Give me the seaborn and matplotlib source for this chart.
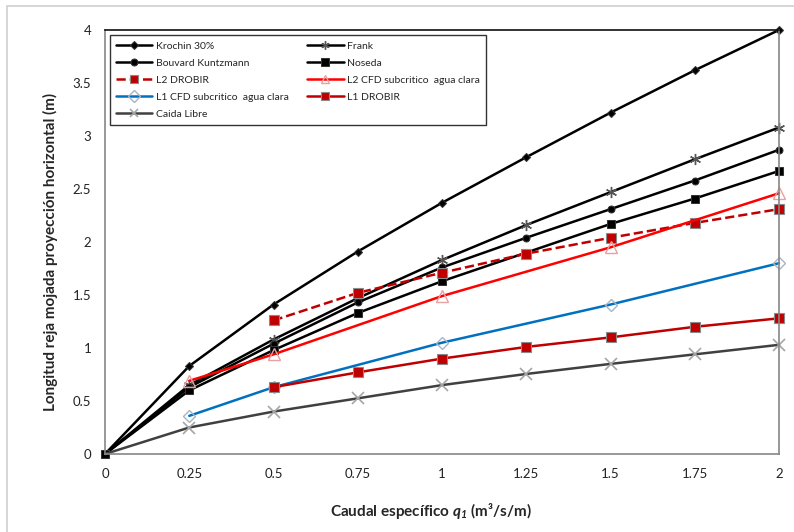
import numpy as np
import pandas as pd
import matplotlib
matplotlib.use("Agg")
import matplotlib.pyplot as plt
from matplotlib.patches import Rectangle
import seaborn as sns

# Specific discharge q1 (m3/s/m)
q_full = [0.0, 0.25, 0.5, 0.75, 1.0, 1.25, 1.5, 1.75, 2.0]
q_drobir = [0.5, 0.75, 1.0, 1.25, 1.5, 1.75, 2.0]
q_cfd = [0.25, 0.5, 1.0, 1.5, 2.0]

# Wetted rack length, horizontal projection (m)
krochin = [0.0, 0.83, 1.41, 1.91, 2.37, 2.80, 3.22, 3.62, 4.0]
frank = [0.0, 0.65, 1.08, 1.47, 1.83, 2.16, 2.47, 2.78, 3.08]
bouvard = [0.0, 0.63, 1.04, 1.43, 1.76, 2.04, 2.31, 2.58, 2.87]
noseda = [0.0, 0.60, 0.98, 1.33, 1.63, 1.90, 2.17, 2.41, 2.67]
l2_drobir = [1.26, 1.52, 1.71, 1.89, 2.04, 2.18, 2.31]
l2_cfd = [0.69, 0.94, 1.49, 1.95, 2.46]
l1_cfd = [0.36, 0.63, 1.05, 1.41, 1.80]
l1_drobir = [0.63, 0.77, 0.90, 1.01, 1.10, 1.20, 1.28]
caida_libre = [0.0, 0.25, 0.40, 0.525, 0.65, 0.755, 0.85, 0.94, 1.03]

x_ticks = [0, 0.25, 0.5, 0.75, 1, 1.25, 1.5, 1.75, 2]
x_tick_labels = ["0", "0.25", "0.5", "0.75", "1", "1.25", "1.5", "1.75", "2"]
y_ticks = [0, 0.5, 1, 1.5, 2, 2.5, 3, 3.5, 4]
y_tick_labels = ["0", "0.5", "1", "1.5", "2", "2.5", "3", "3.5", "4"]

sns.set_style("white")
plt.rcParams["font.family"] = ["Lato", "DejaVu Sans"]
plt.rcParams["mathtext.fontset"] = "custom"
plt.rcParams["mathtext.bfit"] = "Lato:italic:bold"
plt.rcParams["mathtext.it"] = "Lato:italic"
plt.rcParams["mathtext.rm"] = "Lato"

fig = plt.figure(figsize=(7.94, 5.32), dpi=100)
ax = fig.add_axes([105 / 794, 1 - 454 / 532, 674 / 794, 424 / 532])

# light outer frame of the chart area
fig.patches.append(Rectangle((7 / 794, -0.1), 1.2, 1.1 - 6 / 532,
                             transform=fig.transFigure, fill=False,
                             edgecolor="#D0D0D0", linewidth=1.2, zorder=0))

GRAY = "#868686"
lw = 1.8
skip_origin = list(range(1, len(q_full)))

def draw(x, y, label, **kw):
    df = pd.DataFrame({"q": x, "L": y})
    sns.lineplot(data=df, x="q", y="L", ax=ax, label=label, linewidth=lw,
                 sort=False, clip_on=False, **kw)

draw(q_full, krochin, "Krochin 30%", color="black", marker="D",
     markersize=4, markerfacecolor="black", markeredgecolor="#333333",
     markevery=skip_origin)
draw(q_full, frank, "Frank", color="black", marker=(6, 2, 0),
     markersize=8, markeredgecolor="#555555", markeredgewidth=1.0,
     markevery=skip_origin)
draw(q_full, bouvard, "Bouvard Kuntzmann", color="black", marker="o",
     markersize=5, markerfacecolor="black", markeredgecolor="#333333",
     markevery=skip_origin)
draw(q_full, noseda, "Noseda", color="black", marker="s",
     markersize=6, markerfacecolor="black", markeredgecolor="#333333")
draw(q_drobir, l2_drobir, "L2 DROBIR", color="#C00000", linestyle="--",
     marker="s", markersize=7, markerfacecolor="#C00000",
     markeredgecolor="#8A8A8A", markeredgewidth=0.8)
draw(q_cfd, l2_cfd, "L2 CFD subcritico  agua clara", color="#FF0000",
     marker="^", markersize=9, markerfacecolor="none",
     markeredgecolor="#E8A0A0", markeredgewidth=1.0)
draw(q_cfd, l1_cfd, "L1 CFD subcritico  agua clara", color="#0070C0",
     marker="D", markersize=6, markerfacecolor="none",
     markeredgecolor="#A8B4C4", markeredgewidth=1.0)
draw(q_drobir, l1_drobir, "L1 DROBIR", color="#C00000", marker="s",
     markersize=7, markerfacecolor="#C00000",
     markeredgecolor="#8A8A8A", markeredgewidth=0.8)
draw(q_full, caida_libre, "Caida Libre", color="#404040", marker="x",
     markersize=8, markeredgecolor="#A6A6A6", markeredgewidth=1.2,
     markevery=skip_origin)

ax.set_xlim(0, 2)
ax.set_ylim(0, 4)
ax.set_xticks(x_ticks)
ax.set_xticklabels(x_tick_labels)
ax.set_yticks(y_ticks)
ax.set_yticklabels(y_tick_labels)
ax.tick_params(axis="both", direction="out", length=4, width=1,
               color=GRAY, labelsize=9.5, labelcolor="#222222", pad=6)

for side in ("left", "bottom", "right"):
    ax.spines[side].set_color(GRAY)
    ax.spines[side].set_linewidth(1.2)
ax.spines["top"].set_color("#111111")
ax.spines["top"].set_linewidth(1.2)

ax.set_xlabel(r"Caudal específico $\mathbfit{q_1}$ (m³/s/m)",
              fontsize=11, fontweight="bold")
ax.xaxis.set_label_coords(0.484, -0.11)
ax.set_ylabel("Longitud reja mojada proyección horizontal (m)",
              fontsize=11, fontweight="bold")
ax.yaxis.set_label_coords(-0.07, 0.476)

# legend: two columns, filled row by row
handles, labels = ax.get_legend_handles_labels()
order = [0, 2, 4, 6, 8, 1, 3, 5, 7]
leg = ax.legend([handles[i] for i in order], [labels[i] for i in order],
                ncol=2, loc="upper left", bbox_to_anchor=(0.007, 0.988),
                fontsize=7.5, frameon=True, fancybox=False,
                edgecolor="black", handlelength=3.5, handletextpad=0.3,
                columnspacing=1.8, labelspacing=0.75, borderpad=0.6,
                borderaxespad=0)
leg.get_frame().set_linewidth(1.0)
for h in leg.legend_handles:
    h.set_markersize(min(h.get_markersize(), 6))
    h.set_markevery([1])

fig.savefig("out.png", dpi=100, facecolor="white")
